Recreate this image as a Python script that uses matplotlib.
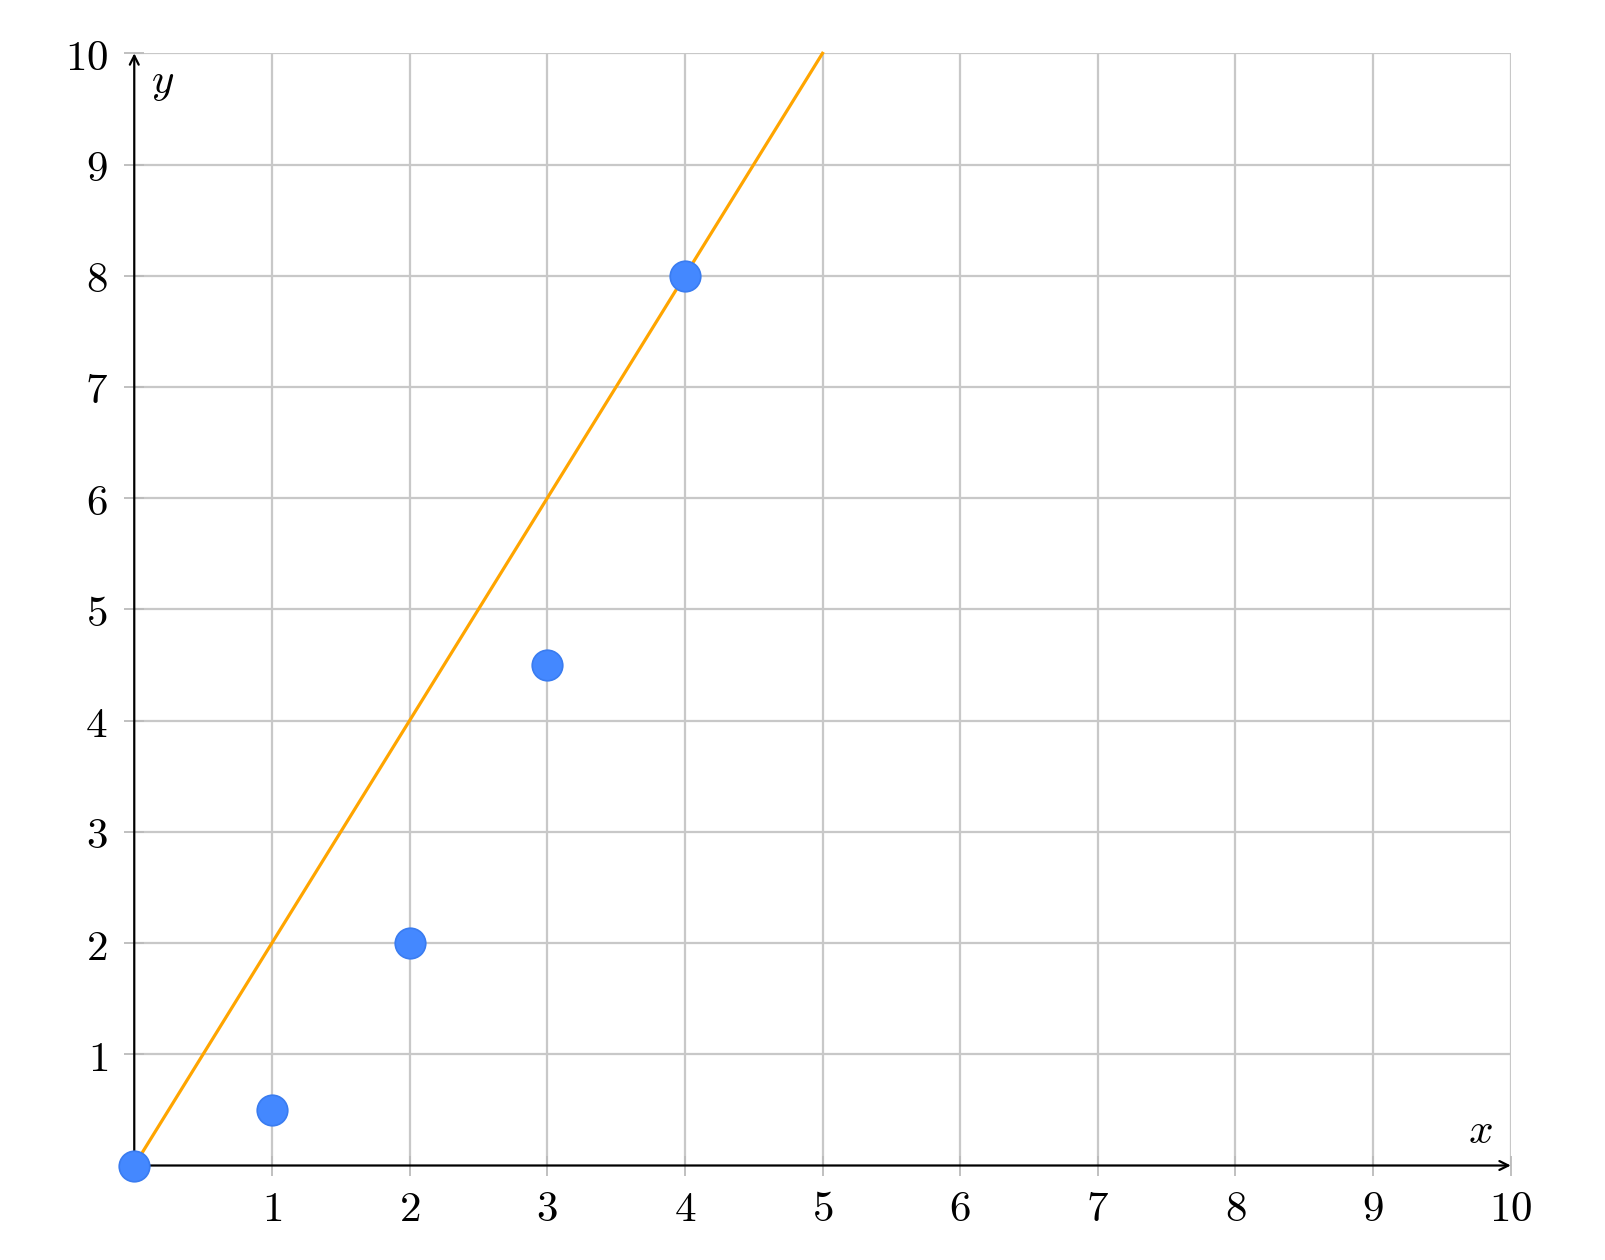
import matplotlib.pyplot as plt
import numpy as np

plt.rcParams['mathtext.fontset'] = 'cm'

# data
px = [0, 1, 2, 3, 4]
py = [0, 0.5, 2, 4.5, 8]
line_x = [0, 5]
line_y = [0, 10]
ticks = [1, 2, 3, 4, 5, 6, 7, 8, 9, 10]

fig = plt.figure(figsize=(16.06, 12.6), dpi=100)
ax = fig.add_axes([0.0836, 0.075, 0.8571, 0.8827])
ax.set_xlim(0, 10)
ax.set_ylim(0, 10)

ax.set_xticks(ticks)
ax.set_yticks(ticks)
ax.set_xticklabels([f'${t}$' for t in ticks])
ax.set_yticklabels([f'${t}$' for t in ticks])
ax.tick_params(axis='both', direction='inout', length=14, width=1.3,
               color='#bbbbbb', labelsize=31)
ax.tick_params(axis='x', pad=9)
ax.tick_params(axis='y', pad=12)
ax.grid(True, color='#c8c8c8', linewidth=1.6)
ax.set_axisbelow(True)

for s in ['top', 'right', 'left', 'bottom']:
    ax.spines[s].set_visible(False)

# axis arrows
for end in [(1, 0), (0, 1)]:
    ax.annotate('', xy=end, xytext=(0, 0), xycoords='axes fraction',
                arrowprops=dict(arrowstyle='->', color='black', lw=1.6,
                                mutation_scale=16, shrinkA=0, shrinkB=0),
                annotation_clip=False)

ax.plot(line_x, line_y, color='#ffa500', lw=2.3, zorder=3, clip_on=False)
ax.plot(px, py, 'o', ms=22, color='#4488ff', mec='#3a7cf0', mew=1.2,
        zorder=4, clip_on=False, linestyle='none')

ax.text(0.987, 0.012, '$x$', transform=ax.transAxes, fontsize=31,
        ha='right', va='bottom')
ax.text(0.012, 0.993, '$y$', transform=ax.transAxes, fontsize=31,
        ha='left', va='top')

fig.savefig('out.png', dpi=100)
